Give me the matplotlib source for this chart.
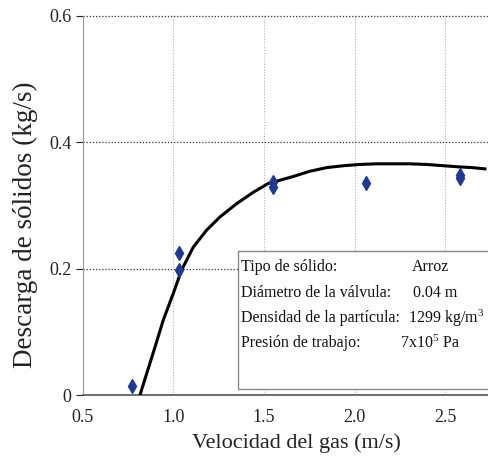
import matplotlib
matplotlib.use("Agg")
import matplotlib.pyplot as plt
from matplotlib.patches import Rectangle

plt.rcParams["font.family"] = ["Liberation Serif", "DejaVu Serif"]
plt.rcParams["mathtext.fontset"] = "custom"
plt.rcParams["mathtext.rm"] = "Liberation Serif"
plt.rcParams["mathtext.it"] = "Liberation Serif:italic"

# measured points (gas velocity m/s, solids discharge kg/s)
vel_meas = [0.77, 1.03, 1.03, 1.55, 1.55, 2.065, 2.58, 2.58]
desc_meas = [0.014, 0.225, 0.198, 0.337, 0.329, 0.336, 0.349, 0.343]

# fitted curve
vel_fit = [0.805, 0.815, 0.852, 0.898, 0.944, 0.999, 1.045, 1.109, 1.183,
           1.257, 1.349, 1.441, 1.524, 1.60, 1.662, 1.75, 1.846, 1.94,
           2.03, 2.12, 2.214, 2.30, 2.398, 2.49, 2.583, 2.65, 2.72]
desc_fit = [-0.01, 0.0, 0.034, 0.076, 0.119, 0.161, 0.198, 0.234, 0.261,
            0.282, 0.303, 0.321, 0.335, 0.341, 0.346, 0.354, 0.360, 0.363,
            0.365, 0.366, 0.366, 0.366, 0.365, 0.363, 0.361, 0.360, 0.358]

x_ticks = [0.5, 1.0, 1.5, 2.0, 2.5]
x_labels = ["0.5", "1.0", "1.5", "2.0", "2.5"]
y_ticks = [0, 0.2, 0.4, 0.6]
y_labels = ["0", "0.2", "0.4", "0.6"]

info_left = ["Tipo de sólido:", "Diámetro de la válvula:",
             "Densidad de la partícula:", "Presión de trabajo:"]
info_right = ["Arroz", "0.04 m", r"1299 kg/m$^3$", r"7x10$^5$ Pa"]

fig = plt.figure(figsize=(4.88, 4.65), dpi=100)
ax = fig.add_axes([0.170, 0.1505, 0.830, 0.8151])

ax.set_xlim(0.5, 2.737)
ax.set_ylim(0, 0.6)

# grid: vertical light dotted, horizontal dark dotted
for xv in x_ticks[1:]:
    ax.axvline(xv, color="#b0b0b0", lw=0.8, ls=(0, (1, 1.5)), zorder=1)
for yv in y_ticks[1:]:
    ax.axhline(yv, color="#333333", lw=0.9, ls=(0, (1, 1.5)), zorder=1,
               clip_on=False)

ax.plot(vel_fit, desc_fit, color="black", lw=2.2, zorder=3,
        solid_joinstyle="round")
ax.plot(vel_meas, desc_meas, ls="none", marker="d", ms=7.5,
        color="#23398c", zorder=4)

# info box
box = Rectangle((1.355, 0.0095), 2.0, 0.2185, facecolor="white",
                edgecolor="#888888", lw=1.0, zorder=5)
ax.add_patch(box)
rows_y = [0.202, 0.161, 0.122, 0.082]
right_x = [2.318, 2.323, 2.296, 2.251]
for i in range(4):
    ax.text(1.373, rows_y[i], info_left[i], fontsize=11.5, va="center",
            ha="left", color="#111111", zorder=6)
    ax.text(right_x[i], rows_y[i], info_right[i], fontsize=11.5,
            va="center", ha="left", color="#111111", zorder=6)

ax.set_xticks(x_ticks)
ax.set_xticklabels(x_labels)
ax.set_yticks(y_ticks)
ax.set_yticklabels(y_labels)
ax.tick_params(axis="both", labelsize=13, colors="#222222", length=5,
               width=0.8, direction="out")
ax.tick_params(axis="x", length=0, pad=10)

for s in ["top", "right"]:
    ax.spines[s].set_visible(False)
ax.spines["left"].set_color("#999999")
ax.spines["bottom"].set_color("#555555")
ax.spines["bottom"].set_linewidth(1.2)

fig.text(296 / 488, 1 - 443 / 465, "Velocidad del gas (m/s)", fontsize=16,
         color="#222222", ha="center", va="center")
fig.text(25 / 488, 1 - 225 / 465, "Descarga de sólidos (kg/s)", fontsize=19.5,
         color="#222222", ha="center", va="center", rotation=90)

fig.savefig("out.png", dpi=100)
